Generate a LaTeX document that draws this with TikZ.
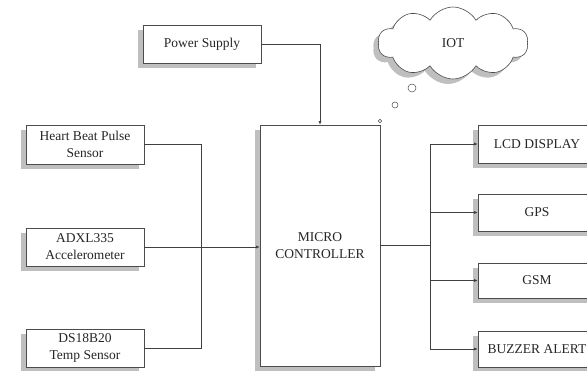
\documentclass[tikz,border=0pt]{standalone}
\usepackage{fontspec}
\setmainfont{Liberation Serif}
\usetikzlibrary{shapes.symbols,shadows,arrows.meta}
\begin{document}
\begin{tikzpicture}[x=1pt,y=-1pt,
  blk/.style={draw=black!70, line width=0.6pt, fill=white, align=center, inner sep=1pt,
    font=\fontsize{13.5}{17}\selectfont, text=black!85,
    drop shadow={shadow xshift=-5pt, shadow yshift=-5pt, fill=black, opacity=0.25}},
  wire/.style={draw=black!75, line width=0.6pt},
  arr/.style={wire, -{Latex[length=3.5pt,width=3pt]}},
  bub/.style={draw=black!70, line width=0.5pt, fill=white, circle, inner sep=0pt}]
\clip (0,0) rectangle (587,371);
\fill[white] (0,0) rectangle (587,371);
% left column
\node[blk, minimum width=118pt, minimum height=38pt] (power) at (202,44) {Power Supply};
\node[blk, minimum width=118pt, minimum height=39pt] (heart) at (85,144.5) {Heart Beat Pulse\\Sensor};
\node[blk, minimum width=118pt, minimum height=38pt] (adxl) at (85,247) {ADXL335\\Accelerometer};
\node[blk, minimum width=118pt, minimum height=38pt] (ds) at (85,348) {DS18B20\\Temp Sensor};
% controller
\node[blk, minimum width=120pt, minimum height=241pt] (mcu) at (320,245.5) {MICRO\\CONTROLLER};
% outputs
\node[blk, minimum width=118pt, minimum height=38pt] (lcd) at (537,144) {LCD DISPLAY};
\node[blk, minimum width=118pt, minimum height=37pt] (gps) at (537,212.5) {GPS};
\node[blk, minimum width=118pt, minimum height=35pt] (gsm) at (537,280.5) {GSM};
\node[blk, minimum width=118pt, minimum height=36pt] (buz) at (537,349) {BUZZER ALERT};
% cloud
\node[cloud, cloud puffs=10, cloud puff arc=120, aspect=2.1, draw=black!70, line width=0.6pt, fill=white,
  minimum width=150pt, minimum height=72pt, font=\fontsize{13.5}{16}\selectfont, text=black!85,
  drop shadow={shadow xshift=-5pt, shadow yshift=-5pt, fill=black, opacity=0.25}] (iot) at (453,43) {IOT};
\node[bub, minimum size=8pt] (b1) at (412,88) {};
\node[bub, minimum size=6pt] (b2) at (395,105) {};
\node[bub, minimum size=3.5pt] (b3) at (380,121) {};
% junctions
\coordinate (j1) at (201,247);
\coordinate (j2) at (430,245.5);
% input wiring
\draw[wire] (heart.east) -| (j1);
\draw[wire] (ds.east) -| (j1);
\draw[wire] (adxl.east) -- (j1);
\draw[arr] (j1) -- (mcu.west |- j1);
\draw[arr] (power.east) -| (mcu.north);
% output wiring
\draw[wire] (mcu.east) -- (j2);
\draw[wire] (j2 |- lcd.west) -- (j2 |- buz.west);
\draw[arr] (j2 |- lcd.west) -- (lcd.west);
\draw[arr] (j2 |- gps.west) -- (gps.west);
\draw[arr] (j2 |- gsm.west) -- (gsm.west);
\draw[arr] (j2 |- buz.west) -- (buz.west);
\end{tikzpicture}
\end{document}
